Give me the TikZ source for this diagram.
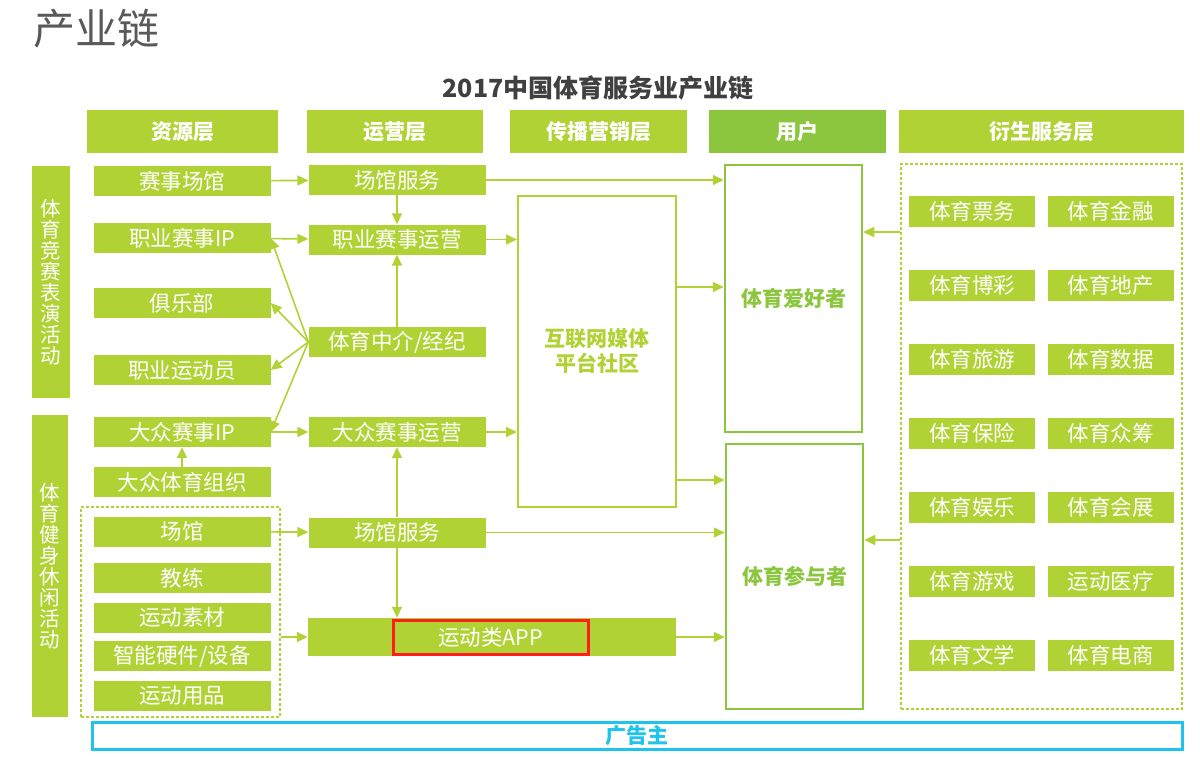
\documentclass[tikz,border=0pt]{standalone}
\usepackage{fontspec}
\setmainfont{Noto Sans CJK SC}
\usetikzlibrary{positioning,arrows.meta}
\definecolor{leaf}{HTML}{B0D235}
\definecolor{grass}{HTML}{8CC63F}
\definecolor{sky}{HTML}{1EC3F0}
\definecolor{alert}{HTML}{FF1E1E}
\definecolor{ink}{HTML}{595959}
\newcommand{\cellfont}{\fontsize{21.5}{23}\selectfont}

\begin{document}
\begin{tikzpicture}[x=1pt,y=-1pt,
  box/.style={fill=leaf,text=white,minimum width=177pt,minimum height=30pt,inner sep=0pt,font=\cellfont},
  head/.style={box,minimum height=43pt,font=\fontsize{21}{23}\selectfont\bfseries},
  tag/.style={box,minimum width=126pt,minimum height=31pt},
  side/.style={box,align=center,font=\fontsize{20.5}{21}\selectfont},
  user/.style={draw=grass,line width=2.5pt,minimum width=137pt,minimum height=267pt,inner sep=0pt,text=grass,font=\fontsize{21}{23}\selectfont\bfseries},
  group/.style={draw=leaf,dash pattern=on 3pt off 2pt,line width=1.3pt,inner sep=0pt},
  arrow/.style={-{Triangle[length=11pt,width=10pt]},draw=leaf,line width=1.6pt}]
  \useasboundingbox (0,0) rectangle (1200,756);

  % titles
  \node[text=ink,font=\fontsize{42}{44}\selectfont] (title) at (96.5,29) {产业链};
  \node[text=black!75,font=\fontsize{25}{27}\selectfont\bfseries] (sub) at (598,88) {2017中国体育服务业产业链};

  % layer heads
  \node[head,minimum width=191pt] (hres) at (182.5,131.5) {资源层};
  \node[head,minimum width=176pt] (hops) at (395,131.5) {运营层};
  \node[head] (hmkt) at (598.5,131.5) {传播营销层};
  \node[head,fill=grass] (husr) at (797.5,131.5) {用户};
  \node[head,minimum width=285pt] (hder) at (1041.5,131.5) {衍生服务层};

  % side bars
  \node[side,minimum width=38pt,minimum height=232pt] (compete) at (51,282) {体\\育\\竞\\赛\\表\\演\\活\\动};
  \node[side,minimum width=36pt,minimum height=302pt] (fitness) at (50,566) {体\\育\\健\\身\\休\\闲\\活\\动};

  % resources
  \node[group,minimum width=199pt,minimum height=210pt] (leftgrp) at (180.5,612) {};
  \node[box] (venue) at (182,181) {赛事场馆};
  \node[box] (proip) at (182,238) {职业赛事IP};
  \node[box] (club) at (182,303) {俱乐部};
  \node[box] (athlete) at (182,370) {职业运动员};
  \node[box] (massip) at (182,432) {大众赛事IP};
  \node[box] (massorg) at (182,482) {大众体育组织};
  \node[box] (gym) at (182,531.5) {场馆};
  \node[box] (coach) at (182,578) {教练};
  \node[box] (material) at (182,617.5) {运动素材};
  \node[box] (device) at (182,656) {智能硬件/设备};
  \node[box] (goods) at (182,696) {运动用品};

  % operations
  \node[box] (svcA) at (397,180) {场馆服务};
  \node[box] (proop) at (397,239.5) {职业赛事运营};
  \node[box] (agent) at (397,342) {体育中介/经纪};
  \node[box] (massop) at (397,432) {大众赛事运营};
  \node[box] (svcB) at (397,532.5) {场馆服务};
  \node[box,minimum width=368pt,minimum height=38pt] (app) at (492,637) {};
  \node[draw=alert,line width=3pt,minimum width=195pt,minimum height=34pt,inner sep=0pt,text=white,font=\cellfont] (appname) at (490.5,637) {运动类APP};

  % media
  \node[draw=leaf,line width=2pt,minimum width=158pt,minimum height=311pt,inner sep=0pt,align=center,text=leaf,font=\fontsize{21}{25}\selectfont\bfseries] (media) at (597,351.5) {互联网媒体\\平台社区};

  % users
  \node[user] (fan) at (793.5,298.5) {体育爱好者};
  \node[user,minimum height=265pt] (player) at (794.5,576.5) {体育参与者};

  % derivative services
  \node[group,minimum width=281pt,minimum height=545pt] (rightgrp) at (1041.5,436.5) {};
  \foreach \a/\b [count=\i] in {体育票务/体育金融,体育博彩/体育地产,体育旅游/体育数据,体育保险/体育众筹,体育娱乐/体育会展,体育游戏/运动医疗,体育文学/体育电商} {
    \node[tag] (l\i) at (972,137.5+74*\i) {\a};
    \node[tag] (r\i) at (1110.5,137.5+74*\i) {\b};
  }

  % advertisers
  \node[draw=sky,line width=3pt,minimum width=1090pt,minimum height=27pt,inner sep=0pt,text=sky,font=\fontsize{21}{23}\selectfont\bfseries] (ad) at (637,735.5) {广告主};

  % connectors
  \draw[arrow] (venue) -- (svcA);
  \draw[arrow] (proip) -- (proop);
  \draw[arrow] (svcA) -- (proop);
  \draw[arrow] (agent) -- (proop);
  \draw[arrow] (agent.west) -- (proip.east);
  \draw[arrow] (agent.west) -- (club.east);
  \draw[arrow] (agent.west) -- (athlete.east);
  \draw[arrow] (agent.west) -- (massip.east);
  \draw[arrow] (massip) -- (massop);
  \draw[arrow] (massorg) -- (massip);
  \draw[arrow] (gym) -- (svcB);
  \draw[arrow] (svcB) -- (massop);
  \draw[arrow] (svcB.south) -- (svcB.south |- app.north);
  \draw[arrow] (app.west -| leftgrp.east) -- (app.west);
  \draw[arrow] (svcA.east) -- (svcA.east -| fan.west);
  \draw[arrow] (proop.east) -- (proop.east -| media.west);
  \draw[arrow] (massop.east) -- (massop.east -| media.west);
  \coordinate (m1) at ([yshift=64.5pt]media.east);
  \coordinate (m2) at ([yshift=-128.5pt]media.east);
  \draw[arrow] (m1) -- (m1 -| fan.west);
  \draw[arrow] (m2) -- (m2 -| player.west);
  \draw[arrow] (svcB.east) -- (svcB.east -| player.west);
  \draw[arrow] (app.east) -- (app.east -| player.west);
  \coordinate (d1) at ([yshift=204.5pt]rightgrp.west);
  \coordinate (d2) at ([yshift=-103.5pt]rightgrp.west);
  \draw[arrow] (d1) -- (d1 -| fan.east);
  \draw[arrow] (d2) -- (d2 -| player.east);
\end{tikzpicture}
\end{document}
